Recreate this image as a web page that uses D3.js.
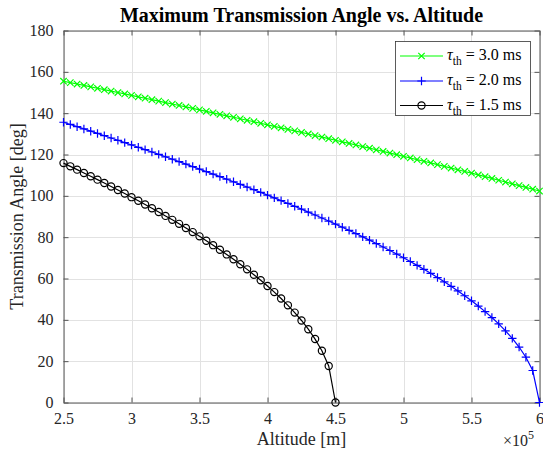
<!DOCTYPE html>
<html><head><meta charset="utf-8">
<script src="https://cdn.jsdelivr.net/npm/d3@7"></script>
<style>body{margin:0;background:#fff}svg{display:block}</style>
</head><body>
<svg id="c" width="543" height="453"></svg>
<script>
// ---- data ----
const altitude = [250000,255000,260000,265000,270000,275000,280000,285000,290000,295000,
  300000,305000,310000,315000,320000,325000,330000,335000,340000,345000,
  350000,355000,360000,365000,370000,375000,380000,385000,390000,395000,
  400000,405000,410000,415000,420000,425000,430000,435000,440000,445000,
  450000,455000,460000,465000,470000,475000,480000,485000,490000,495000,
  500000,505000,510000,515000,520000,525000,530000,535000,540000,545000,
  550000,555000,560000,565000,570000,575000,580000,585000,590000,595000,600000];
const angle30 = [155.45,154.78,154.10,153.42,152.73,152.05,151.36,150.68,149.99,149.30,
  148.61,147.92,147.22,146.52,145.82,145.12,144.42,143.72,143.01,142.31,
  141.60,140.88,140.17,139.45,138.73,138.01,137.29,136.57,135.85,135.11,
  134.37,133.64,132.90,132.16,131.42,130.68,129.93,129.18,128.42,127.66,
  126.89,126.13,125.37,124.60,123.84,123.07,122.28,121.49,120.69,119.90,
  119.11,118.32,117.52,116.73,115.91,115.09,114.26,113.43,112.61,111.78,
  110.95,110.12,109.28,108.41,107.54,106.68,105.81,104.94,104.07,103.20,102.33];
const angle20 = [135.61,134.54,133.46,132.37,131.28,130.19,129.09,127.98,126.87,125.75,
  124.62,123.49,122.35,121.20,120.05,118.89,117.72,116.54,115.35,114.16,
  112.95,111.74,110.52,109.28,108.04,106.79,105.52,104.25,102.96,101.65,
  100.34,99.01,97.67,96.31,94.94,93.55,92.14,90.72,89.27,87.81,
  86.33,84.82,83.29,81.74,80.16,78.55,76.92,75.25,73.55,71.82,
  70.04,68.22,66.36,64.45,62.49,60.47,58.38,56.22,53.99,51.65,
  49.22,46.66,43.97,41.10,38.04,34.69,31.02,26.84,21.91,15.48,0];
const angle15 = [115.83,114.27,112.68,111.08,109.46,107.83,106.18,104.50,102.81,101.10,
  99.36,97.60,95.81,94.00,92.16,90.29,88.38,86.44,84.46,82.45,
  80.39,78.29,76.13,73.93,71.65,69.31,66.91,64.42,61.84,59.15,
  56.35,53.41,50.32,47.02,43.50,39.68,35.46,30.69,25.04,17.69,0];
const seriesNames = ["3.0 ms","2.0 ms","1.5 ms"];
const seriesColors = ["#00ff00","#0000ff","#000000"];
const seriesMarkers = ["x","+","o"];
const xTicks = [250000,300000,350000,400000,450000,500000,550000,600000];
const xTickLabels = ["2.5","3","3.5","4","4.5","5","5.5","6"];
const yTicks = [0,20,40,60,80,100,120,140,160,180];
const titleText = "Maximum Transmission Angle vs. Altitude";
const xLabel = "Altitude [m]";
const yLabel = "Transmission Angle [deg]";

// ---- layout ----
const L=63.5, R=539.5, T=30.5, B=402.5;
const FONT = "'Liberation Serif','Times New Roman',serif";
const svg = d3.select("#c");
const x = d3.scaleLinear().domain([250000,600000]).range([L,R]);
const y = d3.scaleLinear().domain([0,180]).range([B,T]);

svg.append("rect").attr("width",543).attr("height",453).attr("fill","#fff");

// grid
const grid = svg.append("g").attr("stroke","#e2e2e2").attr("stroke-width",1);
grid.selectAll(".gx").data(xTicks).join("line")
  .attr("x1",d=>Math.round(x(d))+0.5).attr("x2",d=>Math.round(x(d))+0.5)
  .attr("y1",T).attr("y2",B);
grid.selectAll(".gy").data(yTicks).join("line")
  .attr("y1",d=>Math.round(y(d))+0.5).attr("y2",d=>Math.round(y(d))+0.5)
  .attr("x1",L).attr("x2",R);

// axes
function styleAxis(g){
  g.selectAll("path").attr("stroke","#555").attr("stroke-width",1);
  g.selectAll("line").attr("stroke","#555").attr("stroke-width",1);
  g.selectAll("text").attr("fill","#262626").style("font-family",FONT).style("font-size","16px");
}
svg.append("g").attr("transform",`translate(0,${B})`)
  .call(d3.axisBottom(x).tickValues(xTicks).tickFormat((d,i)=>xTickLabels[i]).tickSizeInner(-5).tickSizeOuter(0).tickPadding(10))
  .call(styleAxis);
svg.append("g").attr("transform",`translate(0,${T})`)
  .call(d3.axisTop(x).tickValues(xTicks).tickFormat("").tickSizeInner(-5).tickSizeOuter(0))
  .call(styleAxis);
svg.append("g").attr("transform",`translate(${L},0)`)
  .call(d3.axisLeft(y).tickValues(yTicks).tickSizeInner(-5).tickSizeOuter(0).tickPadding(10))
  .call(styleAxis);
svg.append("g").attr("transform",`translate(${R},0)`)
  .call(d3.axisRight(y).tickValues(yTicks).tickFormat("").tickSizeInner(-5).tickSizeOuter(0))
  .call(styleAxis);

// markers
function drawMarker(g, type, cx, cy, color){
  if(type==="o"){
    g.append("circle").attr("cx",cx).attr("cy",cy).attr("r",3.6)
      .attr("fill","none").attr("stroke",color).attr("stroke-width",1.2);
  } else if(type==="+"){
    const s=4.2;
    g.append("path").attr("d",`M${cx-s},${cy}H${cx+s}M${cx},${cy-s}V${cy+s}`)
      .attr("stroke",color).attr("stroke-width",1.2).attr("fill","none");
  } else {
    const s=3.2;
    g.append("path").attr("d",`M${cx-s},${cy-s}L${cx+s},${cy+s}M${cx-s},${cy+s}L${cx+s},${cy-s}`)
      .attr("stroke",color).attr("stroke-width",1.2).attr("fill","none");
  }
}

const allSeries = [angle30, angle20, angle15];
const plot = svg.append("g");
allSeries.forEach((vals,k)=>{
  const pts = vals.map((v,i)=>[altitude[i],v]);
  const line = d3.line().x(d=>x(d[0])).y(d=>y(d[1]));
  const g = plot.append("g");
  g.append("path").attr("d",line(pts)).attr("fill","none")
    .attr("stroke",seriesColors[k]).attr("stroke-width",1.2);
  pts.forEach(p=>drawMarker(g, seriesMarkers[k], x(p[0]), y(p[1]), seriesColors[k]));
});

// title & labels
svg.append("text").attr("x",(L+R)/2).attr("y",22).attr("text-anchor","middle")
  .style("font-family",FONT).style("font-size","20px").style("font-weight","bold")
  .attr("fill","#000").text(titleText);
svg.append("text").attr("x",(L+R)/2).attr("y",445).attr("text-anchor","middle")
  .style("font-family",FONT).style("font-size","18px").attr("fill","#262626").text(xLabel);
svg.append("text").attr("transform",`translate(23,${(T+B)/2}) rotate(-90)`).attr("text-anchor","middle")
  .style("font-family",FONT).style("font-size","18px").attr("fill","#262626").text(yLabel);
const ex = svg.append("text").attr("x",503).attr("y",446)
  .style("font-family",FONT).style("font-size","16px").attr("fill","#262626");
ex.append("tspan").text("\u00d710");
ex.append("tspan").attr("dy",-7).style("font-size","12px").text("5");

// legend
const lg = svg.append("g");
lg.append("rect").attr("x",395.5).attr("y",41.5).attr("width",135).attr("height",74)
  .attr("fill","#fff").attr("stroke","#333").attr("stroke-width",0.8);
const rowY = [56,81,105.5];
seriesNames.forEach((nm,k)=>{
  lg.append("line").attr("x1",400).attr("x2",443).attr("y1",rowY[k]).attr("y2",rowY[k])
    .attr("stroke",seriesColors[k]).attr("stroke-width",1.2);
  drawMarker(lg, seriesMarkers[k], 421.5, rowY[k], seriesColors[k]);
  const t = lg.append("text").attr("x",447).attr("y",rowY[k]+4)
    .style("font-family",FONT).style("font-size","16px").attr("fill","#000");
  t.append("tspan").style("font-style","italic").text("\u03c4");
  t.append("tspan").attr("dy",5).style("font-size","11.5px").text("th");
  t.append("tspan").attr("dy",-5).text(" = " + nm);
});
</script>
</body></html>
